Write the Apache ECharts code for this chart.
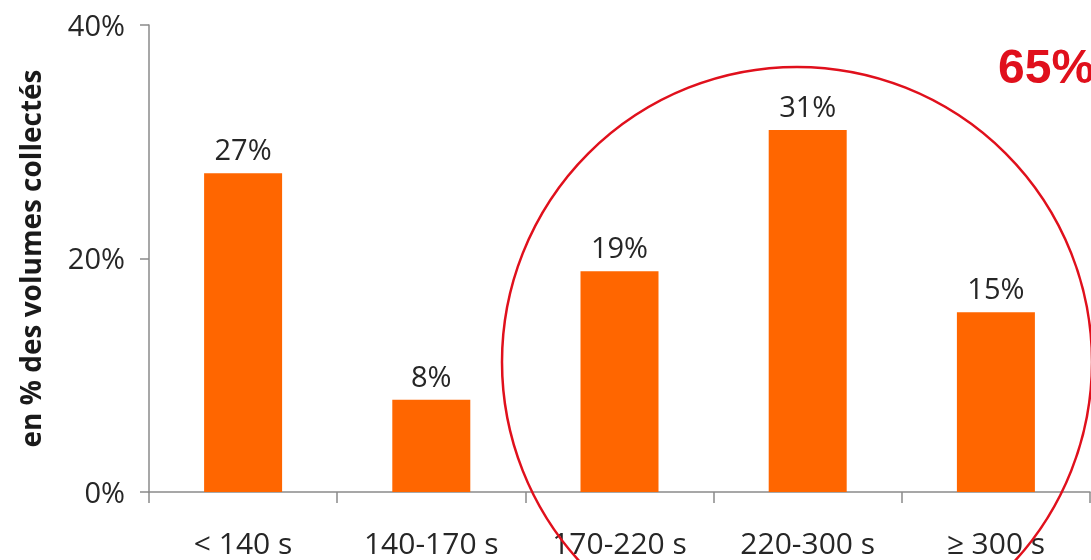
<!DOCTYPE html>
<html>
<head>
<meta charset="utf-8">
<script src="https://cdn.jsdelivr.net/npm/echarts@6/dist/echarts.min.js"></script>
<style>
html,body{margin:0;padding:0;background:#fff;}
#chart{width:1091px;height:560px;}
</style>
</head>
<body>
<div id="chart"></div>
<script>
var categories = ['< 140 s', '140-170 s', '170-220 s', '220-300 s', '\u2265 300 s'];
var values = [27.3, 7.9, 18.9, 31.0, 15.4];
var labelTexts = ['27%', '8%', '19%', '31%', '15%'];
var yTicks = [0, 20, 40];
var highlightText = '65%';
var yAxisTitle = 'en % des volumes collect\u00e9s';

var chart = echarts.init(document.getElementById('chart'));
chart.setOption({
  animation: false,
  grid: { left: 149, right: 1, top: 25, bottom: 66, containLabel: false },
  xAxis: {
    type: 'category',
    data: categories,
    axisLine: { lineStyle: { color: '#8a8a8a', width: 1.5 } },
    axisTick: { show: true, length: 11, alignWithLabel: false, lineStyle: { color: '#8a8a8a', width: 1.5 } },
    axisLabel: { color: '#262626', fontFamily: 'Open Sans', fontSize: 30, margin: 38 }
  },
  yAxis: {
    type: 'value',
    min: yTicks[0],
    max: yTicks[yTicks.length - 1],
    interval: 20,
    name: yAxisTitle,
    nameLocation: 'middle',
    nameGap: 102,
    nameTextStyle: { color: '#1a1a1a', fontFamily: 'Open Sans', fontWeight: 'bold', fontSize: 28 },
    axisLine: { show: true, lineStyle: { color: '#8a8a8a', width: 1.5 } },
    axisTick: { show: true, length: 9, lineStyle: { color: '#8a8a8a', width: 1.5 } },
    splitLine: { show: false },
    axisLabel: {
      color: '#262626', fontFamily: 'Open Sans', fontSize: 29, margin: 24,
      verticalAlign: 'top',
      padding: [-12, 0, 0, 0],
      formatter: function (v) { return v + '%'; }
    }
  },
  series: [{
    type: 'bar',
    data: values,
    barWidth: 78,
    itemStyle: { color: '#ff6600' },
    label: {
      show: true,
      position: 'top',
      distance: 7,
      color: '#262626',
      fontFamily: 'Open Sans',
      fontSize: 29,
      formatter: function (p) { return labelTexts[p.dataIndex]; }
    }
  }],
  graphic: [
    {
      type: 'circle',
      shape: { cx: 797, cy: 362, r: 295 },
      style: { fill: 'none', stroke: '#e0101c', lineWidth: 2.5 },
      z: 100
    },
    {
      type: 'text',
      x: 998,
      y: 70,
      style: {
        text: highlightText,
        fill: '#e0101c',
        font: 'bold 48px "Liberation Sans", Arial, sans-serif',
        verticalAlign: 'middle',
        align: 'left'
      },
      z: 100
    }
  ]
});
</script>
</body>
</html>
